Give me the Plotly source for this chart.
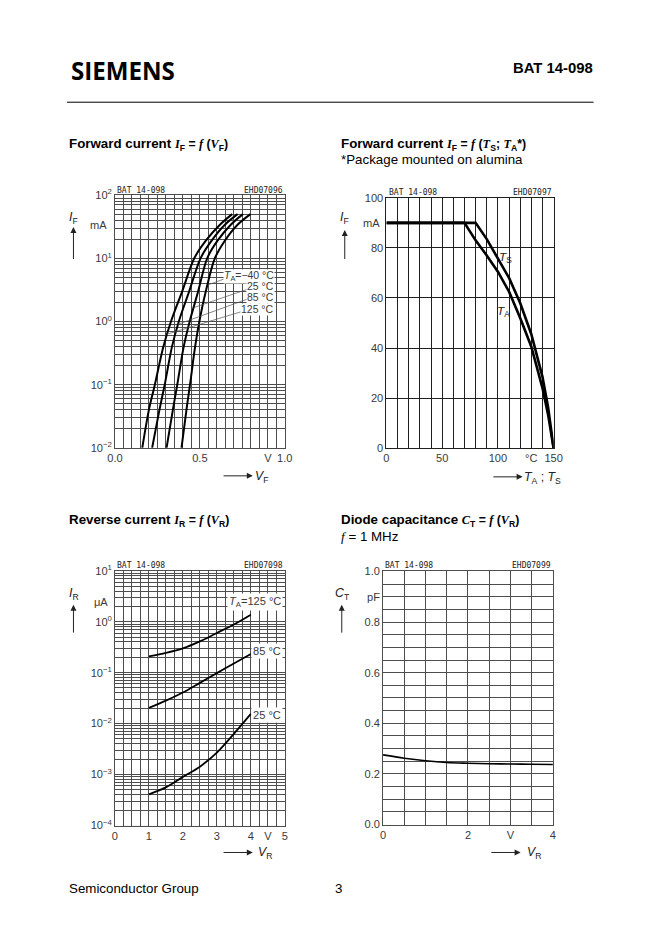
import numpy as np
import plotly.graph_objects as go

W, H = 662, 936

# ---------------- DATA ----------------
# Forward current I_F (mA) vs forward voltage V_F (V), four ambient temperatures
if_levels_ma = [0.01, 0.04, 0.1, 0.4, 1, 3, 10, 19, 34, 50]
vf_125c = [0.161, 0.200, 0.235, 0.285, 0.330, 0.396, 0.467, 0.535, 0.618, 0.690]
vf_85c = [0.219, 0.262, 0.293, 0.336, 0.376, 0.437, 0.504, 0.569, 0.647, 0.722]
vf_25c = [0.304, 0.341, 0.367, 0.405, 0.440, 0.490, 0.543, 0.604, 0.682, 0.753]
vf_m40c = [0.392, 0.421, 0.442, 0.472, 0.497, 0.535, 0.588, 0.647, 0.722, 0.798]
vf_curve_labels = ["<i>T</i><sub>A</sub>=\u221240 \u00b0C", "25 \u00b0C", "85 \u00b0C", "125 \u00b0C"]

# Forward current derating I_F (mA) vs temperature (degC)
temp_a = [0, 70, 80, 90, 100, 110, 120, 130, 140, 145, 150]
if_a = [90, 90, 83, 77, 70.5, 62.5, 52, 40.5, 24, 13.5, 0]
temp_s = [0, 80, 90, 100, 110, 120, 130, 140, 145, 150]
if_s = [90, 90, 83.5, 76, 68, 58, 45.5, 28.5, 16.5, 0]

# Reverse current I_R (uA) vs reverse voltage V_R (V)
vr = [1, 1.5, 2, 2.5, 3, 3.5, 4]
ir_125c = [0.209, 0.245, 0.30, 0.41, 0.60, 0.88, 1.37]
ir_85c = [0.0204, 0.0282, 0.0407, 0.063, 0.098, 0.151, 0.232]
ir_25c = [4.1e-4, 5.6e-4, 9.0e-4, 1.43e-3, 2.7e-3, 6.3e-3, 1.55e-2]
ir_curve_labels = ["<i>T</i><sub>A</sub>=125 \u00b0C", "85 \u00b0C", "25 \u00b0C"]

# Diode capacitance C_T (pF) vs reverse voltage V_R (V)
vr_c = [0, 0.5, 1, 1.5, 2, 2.5, 3, 3.5, 4]
ct_pf = [0.275, 0.262, 0.252, 0.245, 0.242, 0.240, 0.239, 0.238, 0.237]

# ---------------- PAGE GEOMETRY ----------------
# the photographed page maps layout pixels to picture pixels with a small
# scale and offset; positions below are given in picture pixels and mapped back
SX, OX = 0.975, 8.0
SY, OY = 0.986, 6.7

def LX(x):
    return (x - OX) / SX

def LY(y):
    return (y - OY) / SY

def FS(s):
    return s / SX

def px(x):
    return LX(x) / W

def py(y):
    return 1 - LY(y) / H

def dom_x(a, b):
    return [px(a), px(b)]

def dom_y(top, bottom):
    return [py(bottom), py(top)]

TICKFONT = dict(family="Liberation Sans", size=FS(10.8), color="#3a3a3a")
GRID_LIGHT = "#4d4d4d"
GRID_DARK = "#202020"
SERIF = "font-family:'Liberation Serif'"

def lin_axis(domain, rng, major, labels, minor_vals, anchor, gw=0.7, gc=GRID_LIGHT):
    return dict(domain=domain, range=rng, tickmode="array", tickvals=major, ticktext=labels,
                showgrid=True, gridcolor=gc, gridwidth=gw, zeroline=False,
                minor=dict(tickvals=minor_vals, showgrid=True, gridcolor=gc, gridwidth=gw,
                           ticks=""),
                showline=True, mirror=True, linecolor=gc, linewidth=gw,
                ticks="", tickfont=TICKFONT, anchor=anchor, fixedrange=True)

def log_axis(domain, lo, hi, anchor):
    major = [10.0 ** k for k in range(lo, hi + 1)]
    text = ["10<sup>" + str(k).replace("-", "\u2212") + "</sup>" for k in range(lo, hi + 1)]
    minor_vals = [m * 10.0 ** k for k in range(lo, hi) for m in range(2, 10)]
    return dict(domain=domain, type="log", range=[lo, hi], tickmode="array", tickvals=major,
                ticktext=text, showgrid=True, gridcolor=GRID_LIGHT, gridwidth=0.65, zeroline=False,
                minor=dict(tickvals=minor_vals, showgrid=True, gridcolor=GRID_LIGHT,
                           gridwidth=0.6, ticks=""),
                showline=True, mirror=True, linecolor=GRID_LIGHT, linewidth=0.7,
                ticks="", tickfont=TICKFONT, anchor=anchor, fixedrange=True)

fig = go.Figure()

# ---------------- TRACES ----------------
for vf in [vf_125c, vf_85c, vf_25c, vf_m40c]:
    fig.add_trace(go.Scatter(x=vf, y=if_levels_ma, xaxis="x", yaxis="y", mode="lines",
                             line=dict(color="black", width=2, shape="spline", smoothing=0.9),
                             hoverinfo="skip", showlegend=False))

fig.add_trace(go.Scatter(x=temp_a, y=if_a, xaxis="x2", yaxis="y2", mode="lines",
                         line=dict(color="black", width=2.6), showlegend=False))
fig.add_trace(go.Scatter(x=temp_s, y=if_s, xaxis="x2", yaxis="y2", mode="lines",
                         line=dict(color="black", width=2.6), showlegend=False))

for ir in [ir_125c, ir_85c, ir_25c]:
    fig.add_trace(go.Scatter(x=vr, y=ir, xaxis="x3", yaxis="y3", mode="lines",
                             line=dict(color="black", width=1.8, shape="spline", smoothing=0.9),
                             showlegend=False))

fig.add_trace(go.Scatter(x=vr_c, y=ct_pf, xaxis="x4", yaxis="y4", mode="lines",
                         line=dict(color="black", width=1.6, shape="spline", smoothing=0.9),
                         showlegend=False))

# ---------------- AXES ----------------
x1_major, x1_text = [0, 0.5, 0.9, 1.0], ["0.0", "0.5", "V", "1.0"]
x1_minor = [i * 0.05 for i in range(21)]
x2_major, x2_text = [0, 50, 100, 130, 150], ["0", "50", "100", "\u00b0C", "150"]
x2_minor = list(range(0, 151, 10))
y2_major = list(range(0, 101, 20))
x3_major, x3_text = [0, 1, 2, 3, 4, 4.5, 5], ["0", "1", "2", "3", "4", "V", "5"]
x3_minor = [i * 0.25 for i in range(21)]
x4_major, x4_text = [0, 2, 3, 4], ["0", "2", "V", "4"]
x4_minor = [i * 0.5 for i in range(9)]
y4_major = [0, 0.2, 0.4, 0.6, 0.8, 0.9, 1.0]
y4_text = ["0.0", "0.2", "0.4", "0.6", "0.8", "pF", "1.0"]
y4_minor = [i * 0.05 for i in range(21)]

fig.update_layout(
    width=W, height=H, autosize=False, margin=dict(l=0, r=0, t=0, b=0, pad=0),
    paper_bgcolor="white", plot_bgcolor="white", showlegend=False,
    xaxis=lin_axis(dom_x(115, 285), [0, 1], x1_major, x1_text, x1_minor, "y", gw=0.65),
    yaxis=log_axis(dom_y(194, 447), -2, 2, "x"),
    xaxis2=lin_axis(dom_x(386.7, 554), [0, 150], x2_major, x2_text, x2_minor, "y2",
                    gw=1.0, gc=GRID_DARK),
    yaxis2=lin_axis(dom_y(196.7, 447.3), [0, 100], y2_major, [str(v) for v in y2_major],
                    y2_major, "x2", gw=1.0, gc=GRID_DARK),
    xaxis3=lin_axis(dom_x(115, 285), [0, 5], x3_major, x3_text, x3_minor, "y3", gw=0.65),
    yaxis3=log_axis(dom_y(570, 825), -4, 1, "x3"),
    xaxis4=lin_axis(dom_x(383.3, 553.3), [0, 4], x4_major, x4_text, x4_minor, "y4", gw=0.75),
    yaxis4=lin_axis(dom_y(570.7, 824), [0, 1], y4_major, y4_text, y4_minor, "x4", gw=0.75),
)

ann = []
shapes = []

def text(x, y, s, size=13, xanchor="left", family="Liberation Sans", color="black", yanchor="middle"):
    ann.append(dict(x=px(x), y=py(y), xref="paper", yref="paper", text=s, showarrow=False,
                    xanchor=xanchor, yanchor=yanchor,
                    font=dict(family=family, size=FS(size), color=color)))

def arrow(x, y, ax, ay):
    ann.append(dict(x=px(x), y=py(y), xref="paper", yref="paper", text="", showarrow=True,
                    ax=ax / SX, ay=ay / SY, arrowhead=2, arrowsize=1.2, arrowwidth=1,
                    arrowcolor="#222"))

# ---------------- HEADER / FOOTER ----------------
text(69, 69, "<b>SIEMENS</b>", size=23.5, family="Open Sans")
text(595, 67, "<b>BAT 14-098</b>", size=14.5, xanchor="right")
shapes.append(dict(type="line", xref="paper", yref="paper", x0=px(67), x1=px(594),
                   y0=py(101), y1=py(101), line=dict(color="black", width=1)))
text(67, 888, "Semiconductor Group", size=13)
text(333, 888, "3", size=13)

def it(s):
    return "<span style=\"" + SERIF + "\"><i>" + s + "</i></span>"

def formula(s):
    return "<span style=\"font-size:" + str(round(FS(12), 2)) + "px\">" + s + "</span>"

text(67, 143, "<b>Forward current " + formula(it("I") + "<sub>F</sub> = " + it("f") + " (" + it("V")
     + "<sub>F</sub>)") + "</b>", size=13)
text(339, 143, "<b>Forward current " + formula(it("I") + "<sub>F</sub> = " + it("f") + " (" + it("T")
     + "<sub>S</sub>; " + it("T") + "<sub>A</sub>*)") + "</b>", size=13)
text(339, 158, "*Package mounted on alumina", size=13)
text(67, 520, "<b>Reverse current " + formula(it("I") + "<sub>R</sub> = " + it("f") + " (" + it("V")
     + "<sub>R</sub>)") + "</b>", size=13)
text(339, 520, "<b>Diode capacitance " + formula(it("C") + "<sub>T</sub> = " + it("f") + " (" + it("V")
     + "<sub>R</sub>)") + "</b>", size=13)
text(339, 536, it("f") + " = 1 MHz", size=13)

# ---------------- CHART DECORATIONS ----------------
IDF = "DejaVu Sans Mono"
for (xl, xr, yy, code) in [(115, 285, 189, "EHD07096"), (387, 554, 191.5, "EHD07097"),
                           (115, 285, 565, "EHD07098"), (383, 553, 565, "EHD07099")]:
    text(xl, yy, "BAT 14-098", size=7.8, family=IDF, color="#222")
    text(xr, yy, code, size=7.8, family=IDF, color="#222", xanchor="right")

# units
text(109, 224, "mA", size=10.8, xanchor="right", color="#3a3a3a")
text(382, 222, "mA", size=10.8, xanchor="right", color="#3a3a3a")
text(110, 601, "\u03bcA", size=10.8, xanchor="right", color="#3a3a3a")

# axis symbols and arrows
text(74, 217, "<i>I</i><sub>F</sub>", size=12, xanchor="center", color="#222")
arrow(73.5, 226, 0, 33)
text(262, 476, "<i>V</i><sub>F</sub>", size=12, xanchor="center", color="#222")
arrow(253, 475, -30, 0)

text(345, 217, "<i>I</i><sub>F</sub>", size=12, xanchor="center", color="#222")
arrow(345, 229, 0, 30)
text(543, 477, "<i>T</i><sub>A</sub> ; <i>T</i><sub>S</sub>", size=12, xanchor="center", color="#222")
arrow(523, 476, -30, 0)

text(74, 593, "<i>I</i><sub>R</sub>", size=12, xanchor="center", color="#222")
arrow(73.5, 604, 0, 29)
text(265, 853, "<i>V</i><sub>R</sub>", size=12, xanchor="center", color="#222")
arrow(253, 852, -30, 0)

text(343, 593, "<i>C</i><sub>T</sub>", size=12, xanchor="center", color="#222")
arrow(342, 604, 0, 29)
text(534, 853, "<i>V</i><sub>R</sub>", size=12, xanchor="center", color="#222")
arrow(521, 852, -30, 0)

# curve labels, plot 1 (leaders drawn to points on the curves)
lg = np.log10(if_levels_ma)
label_logy = [0.719, 0.553, 0.387, 0.190]
leader_start = [(0.66, 0.69), (0.804, 0.533), (0.798, 0.372), (0.775, 0.180)]
leader_end_logI = [0.577, 0.218, -0.044, -0.2]
for lbl, ly, (sx, sy), el, vf in zip(vf_curve_labels, label_logy, leader_start, leader_end_logI,
                                      [vf_m40c, vf_25c, vf_85c, vf_125c]):
    ex = float(np.interp(el, lg, vf))
    shapes.append(dict(type="line", xref="x", yref="y", x0=sx, y0=10 ** sy, x1=ex, y1=10 ** el,
                       line=dict(color="#555", width=0.7)))
    ann.append(dict(x=0.945, y=ly, xref="x", yref="y", text=lbl, showarrow=False, xanchor="right",
                    yanchor="middle", bgcolor="white", borderpad=0,
                    font=dict(family="Liberation Sans", size=FS(10.2), color="#3a3a3a")))

# curve labels, plot 2
ann.append(dict(x=106.5, y=76, xref="x2", yref="y2", text="<i>T</i><sub>S</sub>", showarrow=False,
                font=dict(family="Liberation Sans", size=FS(11.5), color="#222")))
ann.append(dict(x=105, y=54.6, xref="x2", yref="y2", text="<i>T</i><sub>A</sub>", showarrow=False,
                font=dict(family="Liberation Sans", size=FS(11.5), color="#222")))

# curve labels, plot 3
for lbl, ly in zip(ir_curve_labels, [0.378, -0.582, -1.824]):
    ann.append(dict(x=4.95, y=ly, xref="x3", yref="y3", text=lbl, showarrow=False, xanchor="right",
                    yanchor="middle", bgcolor="white", borderpad=1,
                    font=dict(family="Liberation Sans", size=FS(10.8), color="#3a3a3a")))

fig.update_layout(annotations=ann, shapes=shapes)
fig.write_html("out.html", config={"responsive": False, "displayModeBar": False},
               post_script="document.body.style.margin='0';document.body.style.padding='0';"
                           "document.documentElement.style.overflow='hidden';")
